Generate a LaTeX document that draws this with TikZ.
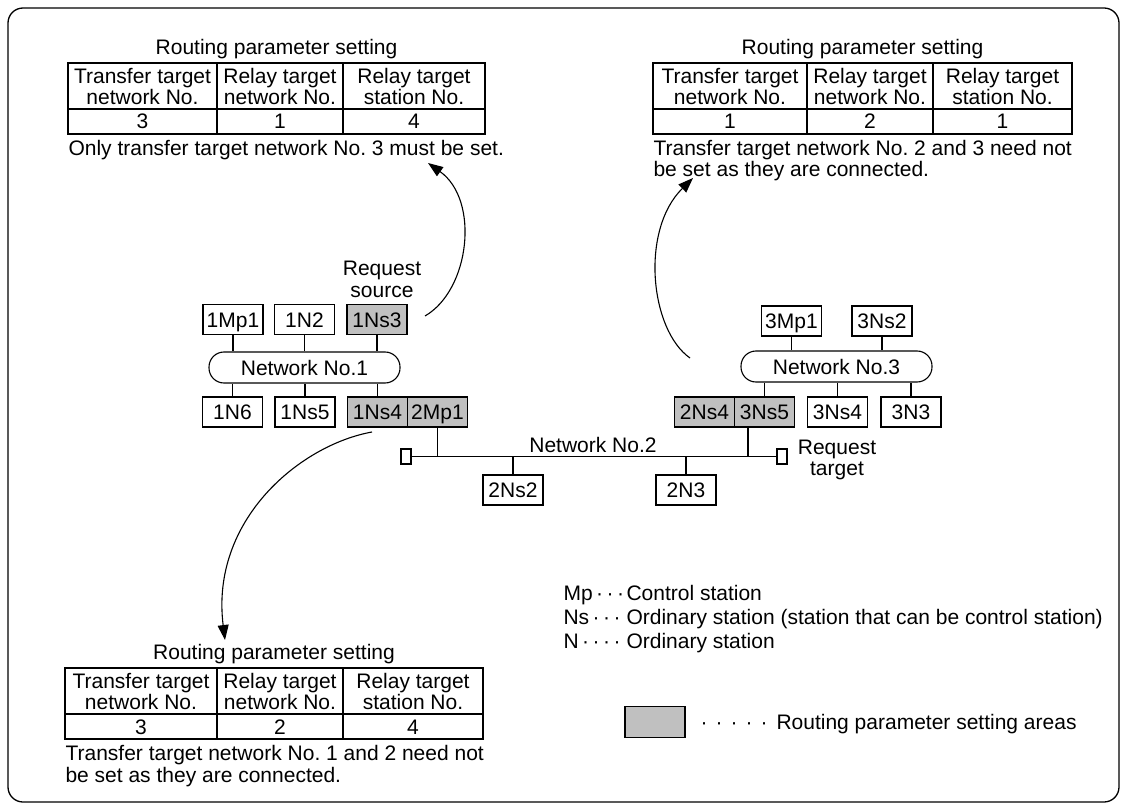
\documentclass[tikz,border=0pt]{standalone}
\usepackage{fontspec}
\setmainfont{Liberation Sans}
\usetikzlibrary{arrows.meta,calc}
\definecolor{grisRuta}{HTML}{C0C0C0}
\newcommand\stfont{\fontsize{21}{19}\selectfont}
\newcommand\notefont{\fontsize{21}{21.5}\selectfont}
% routing table: name, left, divider 1, divider 2, right, top, three values
\newcommand\routetab[9]{%
  \node[lbl] (#1t) at ({(#2+#5)/2},#6-14) {Routing parameter setting};
  \draw[line width=1.4pt] (#2,#6) rectangle (#5,#6+71);
  \draw (#2,#6+46) -- (#5,#6+46);
  \draw (#3,#6) -- (#3,#6+71);
  \draw (#4,#6) -- (#4,#6+71);
  \node[head] (#1a) at ({(#2+#3)/2},#6+23.5) {Transfer target\\network No.};
  \node[head] (#1b) at ({(#3+#4)/2},#6+23.5) {Relay target\\network No.};
  \node[head] (#1c) at ({(#4+#5)/2},#6+23.5) {Relay target\\station No.};
  \node[val] (#1x) at ({(#2+#3)/2},#6+58.5) {#7};
  \node[val] (#1y) at ({(#3+#4)/2},#6+58.5) {#8};
  \node[val] (#1z) at ({(#4+#5)/2},#6+58.5) {#9};
}

\begin{document}
\begin{tikzpicture}[x=1pt,y=-1pt,line width=1.1pt,
    >={Triangle[length=15pt,width=11pt]},
    lbl/.style={inner sep=0pt,font=\stfont},
    head/.style={lbl,align=center},
    val/.style={lbl,text height=15pt,text depth=0pt},
    note/.style={inner sep=0pt,font=\notefont,align=left,anchor=base west},
    sta/.style={draw,fill=white,minimum width=60,minimum height=30,inner sep=2pt,
      text height=15pt,text depth=0pt,font=\stfont},
    rpa/.style={sta,fill=grisRuta},
    net/.style={sta,rounded corners=15pt,minimum width=191,minimum height=31},
    term/.style={draw,fill=white,minimum width=10,minimum height=15,inner sep=0pt}]
  \useasboundingbox (0,0) rectangle (1127,810);
  \draw[line width=1.3pt,rounded corners=15pt] (8,8) rectangle (1119,802);

  % tables
  \routetab{ta}{68}{217}{343}{485}{63}{3}{1}{4}
  \node[note] (nta) at (68,155.5) {Only transfer target network No.~3 must be set.};
  \routetab{tb}{653}{807}{933}{1072}{63}{1}{2}{1}
  \node[note] (ntb) at (653,177) {Transfer target network No.~2 and 3 need not\\be set as they are connected.};
  \routetab{tc}{65}{217}{343}{483}{668}{3}{2}{4}
  \node[note] (ntc) at (65,782) {Transfer target network No.~1 and 2 need not\\be set as they are connected.};

  % network 1
  \node[lbl,align=center,anchor=base,font=\notefont] (src) at (382,297.5) {Request\\source};
  \node[sta] (n1mp1) at (233,319.5) {1Mp1};
  \node[sta] (n1n2) at (304.5,319.5) {1N2};
  \node[rpa] (n1ns3) at (377,319.5) {1Ns3};
  \node[net] (net1) at (304.5,367.5) {Network No.1};
  \node[sta] (n1n6) at (232.5,412) {1N6};
  \node[sta] (n1ns5) at (305,412) {1Ns5};
  \node[rpa] (n1ns4) at (377.5,412) {1Ns4};
  \node[rpa] (n2mp1) at (437.5,412) {2Mp1};
  \foreach \s in {n1mp1,n1n2,n1ns3}
    \draw (\s) -- (\s |- net1.north);
  \foreach \s in {n1n6,n1ns5,n1ns4}
    \draw (\s) -- (\s |- net1.south);

  % network 3
  \node[sta] (n3mp1) at (791.5,321) {3Mp1};
  \node[sta] (n3ns2) at (882,321) {3Ns2};
  \node[net] (net3) at (836.5,366.5) {Network No.3};
  \node[rpa] (n2ns4) at (704.5,412) {2Ns4};
  \node[rpa] (n3ns5) at (764.5,412) {3Ns5};
  \node[sta] (n3ns4) at (837.5,412) {3Ns4};
  \node[sta] (n3n3) at (911,412) {3N3};
  \foreach \s in {n3mp1,n3ns2}
    \draw (\s) -- (\s |- net3.north);
  \foreach \s in {n3ns5,n3ns4,n3n3}
    \draw (\s) -- (\s |- net3.south);

  % network 2
  \node[term] (tl) at (406,456.5) {};
  \node[term] (tr) at (782,456.5) {};
  \node[lbl,anchor=base] (net2) at (593,452.5) {Network No.2};
  \node[lbl,align=center,anchor=base,font=\notefont] (tgt) at (837,475.5) {Request\\target};
  \node[sta] (n2ns2) at (513,490) {2Ns2};
  \node[sta] (n2n3) at (686,490) {2N3};
  \draw (tl) -- (tr);
  \coordinate (d3) at ([xshift=-16.5pt]n3ns5.south);
  \draw (n2mp1) -- (n2mp1 |- tl);
  \draw (d3) -- (d3 |- tr);
  \draw (n2ns2) -- (n2ns2 |- tl);
  \draw (n2n3) -- (n2n3 |- tl);

  % arrows to the settings
  \coordinate (a1s) at (425,316);
  \coordinate (a1e) at (428,163);
  \draw[->] (a1s) .. controls (470,290) and (480,200) .. (a1e);
  \coordinate (a2s) at (690,358);
  \coordinate (a2e) at (693,178);
  \draw[->] (a2s) .. controls (650,330) and (640,230) .. (a2e);
  \coordinate (a3s) at (372,432);
  \coordinate (a3e) at (225,640);
  \draw[->] (a3s) .. controls (300,445) and (210,520) .. (a3e);

  % legend
  \node[lbl,anchor=base west] (kmp) at (563,600.5) {Mp\,·\,·\,·};
  \node[lbl,anchor=base west] (dmp) at (626,600.5) {Control station};
  \node[lbl,anchor=base west] (kns) at (563,624.5) {Ns\,·\,·\,·};
  \node[lbl,anchor=base west] (dns) at (626,624.5) {Ordinary station (station that can be control station)};
  \node[lbl,anchor=base west] (kn) at (563,648.5) {N\,·\,·\,·\,·};
  \node[lbl,anchor=base west] (dn) at (626,648.5) {Ordinary station};
  \node[rpa,minimum height=31] (kbox) at (655,722) {};
  \node[lbl,anchor=base west] (kdots) at (700,729.5) {·\hskip8pt·\hskip8pt·\hskip8pt·\hskip8pt·};
  \node[lbl,anchor=base west] (karea) at (776,729.5) {Routing parameter setting areas};
\end{tikzpicture}
\end{document}
